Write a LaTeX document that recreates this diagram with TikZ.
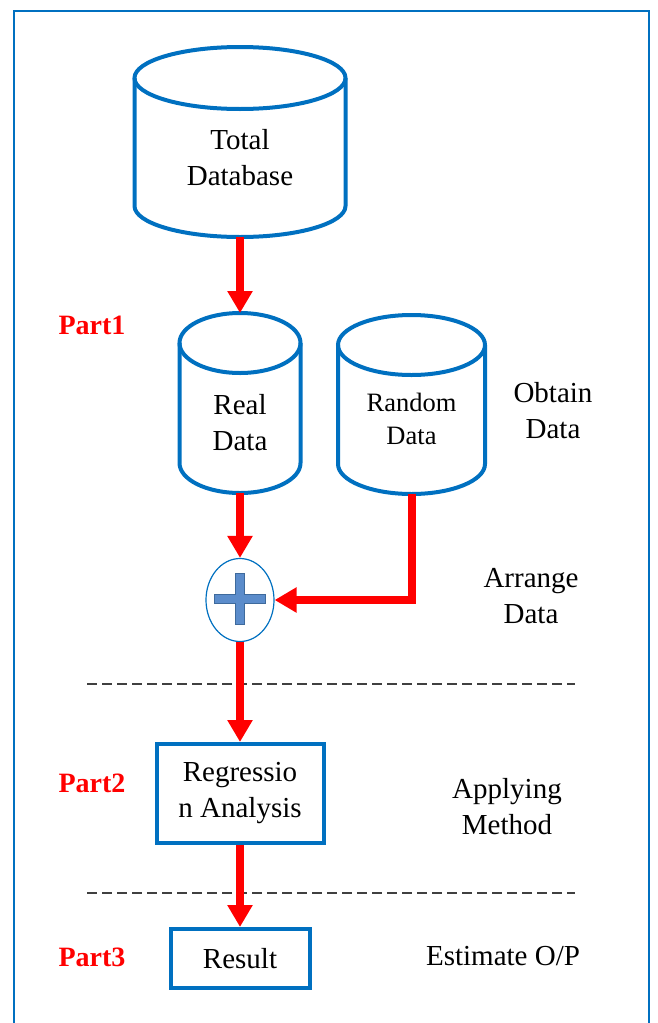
\documentclass[tikz,border=0pt]{standalone}
\usepackage{fontspec}
\setmainfont{Liberation Serif}
\usetikzlibrary{arrows.meta,shapes.geometric}
\definecolor{frameblue}{HTML}{0070C0}
\definecolor{plusfill}{HTML}{5B8CCB}
\definecolor{plusedge}{HTML}{3E6A9C}
\definecolor{dashgray}{HTML}{404040}
\tikzset{
  cylline/.style={draw=frameblue, line width=4pt},
  boxnode/.style={draw=frameblue, line width=4pt, inner sep=0pt, align=center,
                  font=\fontsize{29}{36}\selectfont},
  txt/.style={inner sep=0pt, align=center, font=\fontsize{29}{36}\selectfont},
  smalltxt/.style={inner sep=0pt, align=center, font=\fontsize{26.5}{33}\selectfont},
  partlbl/.style={inner sep=0pt, text=red, font=\fontsize{28}{34}\selectfont\bfseries},
  flow/.style={draw=red, line width=8pt, -{Triangle[length=22pt,width=24pt]}},
  sep/.style={draw=dashgray, line width=2pt, dash pattern=on 10pt off 5pt},
}
% database cylinder: centre x, top ellipse y, bottom ellipse y, x radius, y radius, name
\newcommand\dbcylinder[6]{%
  \draw[cylline] (#1-#4,#2) -- (#1-#4,#3)
     arc[start angle=180,end angle=0,x radius=#4,y radius=#5] -- (#1+#4,#2);
  \draw[cylline] (#1,#2) ellipse[x radius=#4,y radius=#5];
  \coordinate (#6-top) at (#1,#2-#5);
  \coordinate (#6-bot) at (#1,#3+#5);
}
\begin{document}
\begin{tikzpicture}[x=1pt,y=-1pt]
  \useasboundingbox (0,0) rectangle (657,1023);
  \begin{scope}
    \clip (0,0) rectangle (657,1023);
    \draw[frameblue, line width=2.5pt] (14,11) rectangle (649,1045);
  \end{scope}

  % storage
  \dbcylinder{240}{78}{206}{105.5}{31}{tdb}
  \node[txt] (tdbtext) at (240,158) {Total\\Database};

  \dbcylinder{240}{343}{463}{60.5}{30}{real}
  \node[txt] (realtext) at (240,423) {Real\\Data};

  \dbcylinder{411.5}{345}{464}{73.5}{30}{rnd}
  \node[smalltxt] (rndtext) at (411.5,419) {Random\\Data};

  % merge symbol
  \node[ellipse, draw=frameblue, line width=1.2pt, minimum width=68pt,
        minimum height=83pt, inner sep=0pt] (plus) at (240,600) {};
  \draw[plusedge, fill=plusfill, line width=1.5pt]
    (235.5,573.5) -- (244.5,573.5) -- (244.5,594.5) -- (265.5,594.5) --
    (265.5,603.5) -- (244.5,603.5) -- (244.5,624.5) -- (235.5,624.5) --
    (235.5,603.5) -- (214.5,603.5) -- (214.5,594.5) -- (235.5,594.5) -- cycle;

  % processing boxes
  \node[boxnode, minimum width=167pt, minimum height=99pt] (reg) at (240,793.5)
    {Regressio\\n Analysis};
  \node[boxnode, minimum width=139pt, minimum height=59pt] (res) at (240,958.5)
    {Result};

  % separators
  \coordinate (sepa-l) at (87,684);
  \coordinate (sepa-r) at (575,684);
  \coordinate (sepb-l) at (87,893);
  \coordinate (sepb-r) at (575,893);
  \draw[sep] (sepa-l) -- (sepa-r);
  \draw[sep] (sepb-l) -- (sepb-r);

  % flow
  \draw[flow] (tdb-bot) -- (real-top);
  \draw[flow] (real-bot) -- (plus.north);
  \draw[flow] (rnd-bot) |- (plus.east);
  \draw[flow] (plus.south) -- (reg.north);
  \draw[flow] (reg.south) -- (res.north);

  % stage labels
  \node[partlbl] (p1) at (92,325) {Part1};
  \node[partlbl] (p2) at (92,783) {Part2};
  \node[partlbl] (p3) at (92,957) {Part3};

  \node[txt] (obtain) at (553,411) {Obtain\\Data};
  \node[txt] (arrange) at (531,596) {Arrange\\Data};
  \node[txt] (apply) at (507,807) {Applying\\Method};
  \node[txt] (estimate) at (503,956) {Estimate O/P};
\end{tikzpicture}
\end{document}
